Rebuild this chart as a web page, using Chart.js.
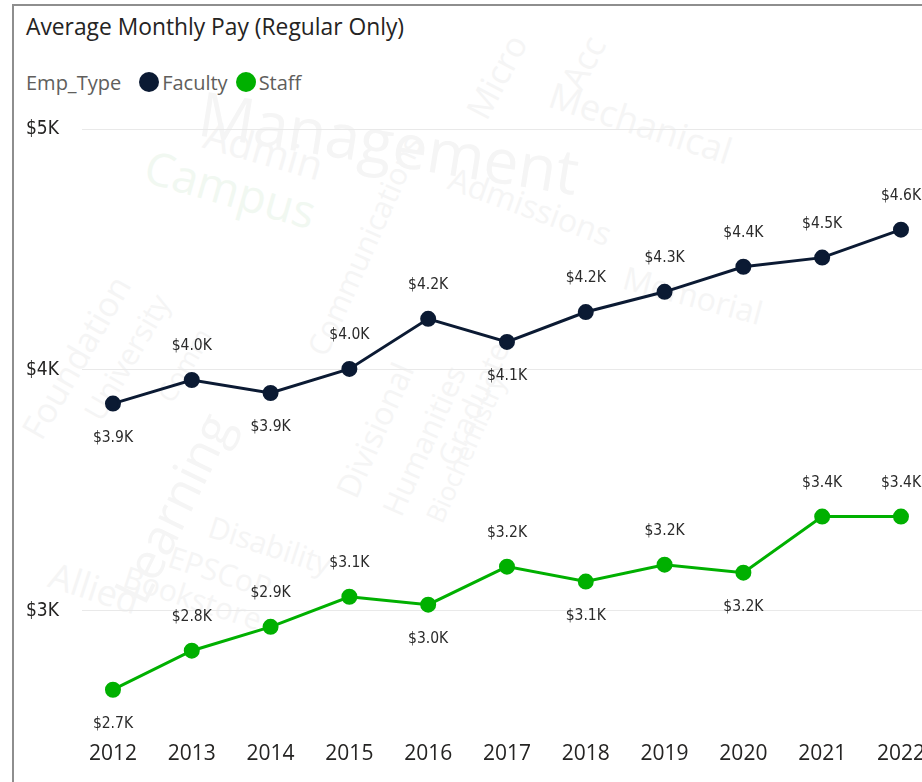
<!DOCTYPE html>
<html>
<head>
<meta charset="utf-8">
<script src="https://cdn.jsdelivr.net/npm/chart.js@4.4.1/dist/chart.umd.min.js"></script>
<style>
html,body{margin:0;padding:0;width:922px;height:782px;overflow:hidden;background:#ffffff;}
#wrap{position:relative;width:922px;height:782px;overflow:hidden;}
#wm{position:absolute;left:0;top:0;width:922px;height:782px;pointer-events:none;}
#wm span{position:absolute;white-space:nowrap;font-family:'Open Sans',sans-serif;color:#f5f5f5;transform-origin:left bottom;line-height:1;}
#frame{position:absolute;left:12px;top:4px;width:960px;height:820px;border-top:2px solid #8e8e8e;border-left:2px solid #8e8e8e;box-sizing:border-box;}
#title{position:absolute;left:26px;top:11px;font-family:'Open Sans',sans-serif;font-size:22.8px;line-height:32px;color:#252423;white-space:nowrap;}
#legend{position:absolute;left:26px;top:68px;height:28px;display:flex;align-items:center;font-family:'Open Sans',sans-serif;font-size:20px;color:#605e5c;white-space:nowrap;}
#legend .dot{display:inline-block;width:20px;height:20px;border-radius:50%;margin-right:3px;}
#legend .lab{margin-right:8px;}
#cwrap{position:absolute;left:0;top:0;width:960px;height:782px;}
</style>
</head>
<body>
<div id="wrap">
  <div id="wm">
    <span style="left:195px;top:80px;font-size:62px;transform:rotate(9deg);">Management</span>
    <span style="left:200px;top:112px;font-size:40px;transform:rotate(16deg);">Admin</span>
    <span style="left:140px;top:140px;font-size:46px;transform:rotate(16deg);color:#f1f8f1;">Campus</span>
    <span style="left:545px;top:75px;font-size:36px;transform:rotate(18deg);">Mechanical</span>
    <span style="left:445px;top:160px;font-size:32px;transform:rotate(20deg);">Admissions</span>
    <span style="left:490px;top:90px;font-size:34px;transform:rotate(-62deg);">Micro</span>
    <span style="left:585px;top:60px;font-size:34px;transform:rotate(-62deg);">Acc</span>
    <span style="left:330px;top:330px;font-size:30px;transform:rotate(-66deg);">Communications</span>
    <span style="left:45px;top:410px;font-size:34px;transform:rotate(-60deg);">Foundation</span>
    <span style="left:105px;top:395px;font-size:30px;transform:rotate(-60deg);">University</span>
    <span style="left:175px;top:380px;font-size:26px;transform:rotate(-60deg);">Comm</span>
    <span style="left:150px;top:560px;font-size:50px;transform:rotate(-64deg);">Learning</span>
    <span style="left:360px;top:470px;font-size:32px;transform:rotate(-66deg);">Divisional</span>
    <span style="left:405px;top:490px;font-size:30px;transform:rotate(-66deg);">Humanities</span>
    <span style="left:460px;top:440px;font-size:30px;transform:rotate(-66deg);">Graduate</span>
    <span style="left:445px;top:500px;font-size:26px;transform:rotate(-66deg);">Biochemistry</span>
    <span style="left:620px;top:260px;font-size:32px;transform:rotate(15deg);">Memorial</span>
    <span style="left:45px;top:555px;font-size:36px;transform:rotate(18deg);">Allied</span>
    <span style="left:120px;top:560px;font-size:30px;transform:rotate(18deg);">Bookstore</span>
    <span style="left:165px;top:540px;font-size:30px;transform:rotate(18deg);">EPSCoR</span>
    <span style="left:205px;top:510px;font-size:30px;transform:rotate(18deg);">Disability</span>
  </div>
  <div id="frame"></div>
  <div id="title">Average Monthly Pay (Regular Only)</div>
  <div id="legend">
    <span class="lab" style="margin-right:18px;">Emp_Type</span>
    <span class="dot" style="background:#0b1a33;"></span><span class="lab">Faculty</span>
    <span class="dot" style="background:#00b000;"></span><span class="lab">Staff</span>
  </div>
  <div id="cwrap"><canvas id="c" width="960" height="782"></canvas></div>
</div>
<script>
// ---- data ----
const years = [2012, 2013, 2014, 2015, 2016, 2017, 2018, 2019, 2020, 2021, 2022];
const facultyPay = [3860, 3958, 3904, 4004, 4212, 4116, 4240, 4324, 4428, 4466, 4582];
const staffPay = [2672, 2834, 2933, 3058, 3025, 3183, 3121, 3191, 3158, 3391, 3391];
const yTickValues = [3000, 4000, 5000];
const seriesNames = ['Faculty', 'Staff'];

// label placement (style, not data)
const facultyLabelSide = ['b','a','b','a','a','b','a','a','a','a','a'];
const staffLabelSide = ['b','a','a','a','b','a','b','a','b','a','a'];

const fmtK = v => '$' + (v / 1000).toFixed(1) + 'K';

const pointLabels = {
  id: 'pointLabels',
  afterDatasetsDraw(chart) {
    const ctx = chart.ctx;
    ctx.save();
    ctx.font = '15.5px "DejaVu Sans Condensed", "DejaVu Sans", sans-serif';
    ctx.fillStyle = '#2b2b2b';
    ctx.textAlign = 'center';
    ctx.textBaseline = 'middle';
    chart.data.datasets.forEach((ds, i) => {
      const meta = chart.getDatasetMeta(i);
      meta.data.forEach((pt, j) => {
        const side = ds.labelSide[j];
        const y = pt.y + (side === 'b' ? 34 : -34);
        ctx.fillText(fmtK(ds.data[j].y), pt.x, y);
      });
    });
    ctx.restore();
  }
};

const ctx = document.getElementById('c').getContext('2d');
new Chart(ctx, {
  type: 'line',
  data: {
    datasets: [
      {
        label: seriesNames[0],
        data: years.map((y, i) => ({ x: y, y: facultyPay[i] })),
        borderColor: '#0b1a33',
        backgroundColor: '#0b1a33',
        borderWidth: 3,
        pointRadius: 6.5,
        pointHoverRadius: 6.5,
        tension: 0,
        labelSide: facultyLabelSide
      },
      {
        label: seriesNames[1],
        data: years.map((y, i) => ({ x: y, y: staffPay[i] })),
        borderColor: '#00b000',
        backgroundColor: '#00b000',
        borderWidth: 3,
        pointRadius: 6.5,
        pointHoverRadius: 6.5,
        tension: 0,
        labelSide: staffLabelSide
      }
    ]
  },
  options: {
    responsive: false,
    animation: false,
    events: [],
    layout: { autoPadding: false, padding: { left: 26, top: 129, right: 0, bottom: 0 } },
    plugins: {
      legend: { display: false },
      title: { display: false },
      tooltip: { enabled: false }
    },
    scales: {
      x: {
        type: 'linear',
        min: 2011.607,
        max: 2022.749,
        grid: { display: false },
        border: { display: false },
        afterBuildTicks: s => { s.ticks = years.map(v => ({ value: v })); },
        afterFit: s => { s.height = 47; },
        ticks: {
          padding: -2,
          autoSkip: false,
          maxRotation: 0,
          color: '#252423',
          font: { family: 'Open Sans', size: 21 },
          callback: v => String(v)
        }
      },
      y: {
        type: 'linear',
        min: 2484,
        max: 5000,
        grid: { color: '#e9e9e9', lineWidth: 1, drawTicks: false },
        border: { display: false },
        afterBuildTicks: s => { s.ticks = yTickValues.map(v => ({ value: v })); },
        afterFit: s => { s.width = 56; },
        ticks: {
          crossAlign: 'far',
          padding: 0,
          color: '#252423',
          font: { family: '"DejaVu Sans Condensed", "DejaVu Sans", sans-serif', size: 19 },
          callback: v => '$' + (v / 1000) + 'K'
        }
      }
    }
  },
  plugins: [pointLabels]
});
</script>
</body>
</html>
